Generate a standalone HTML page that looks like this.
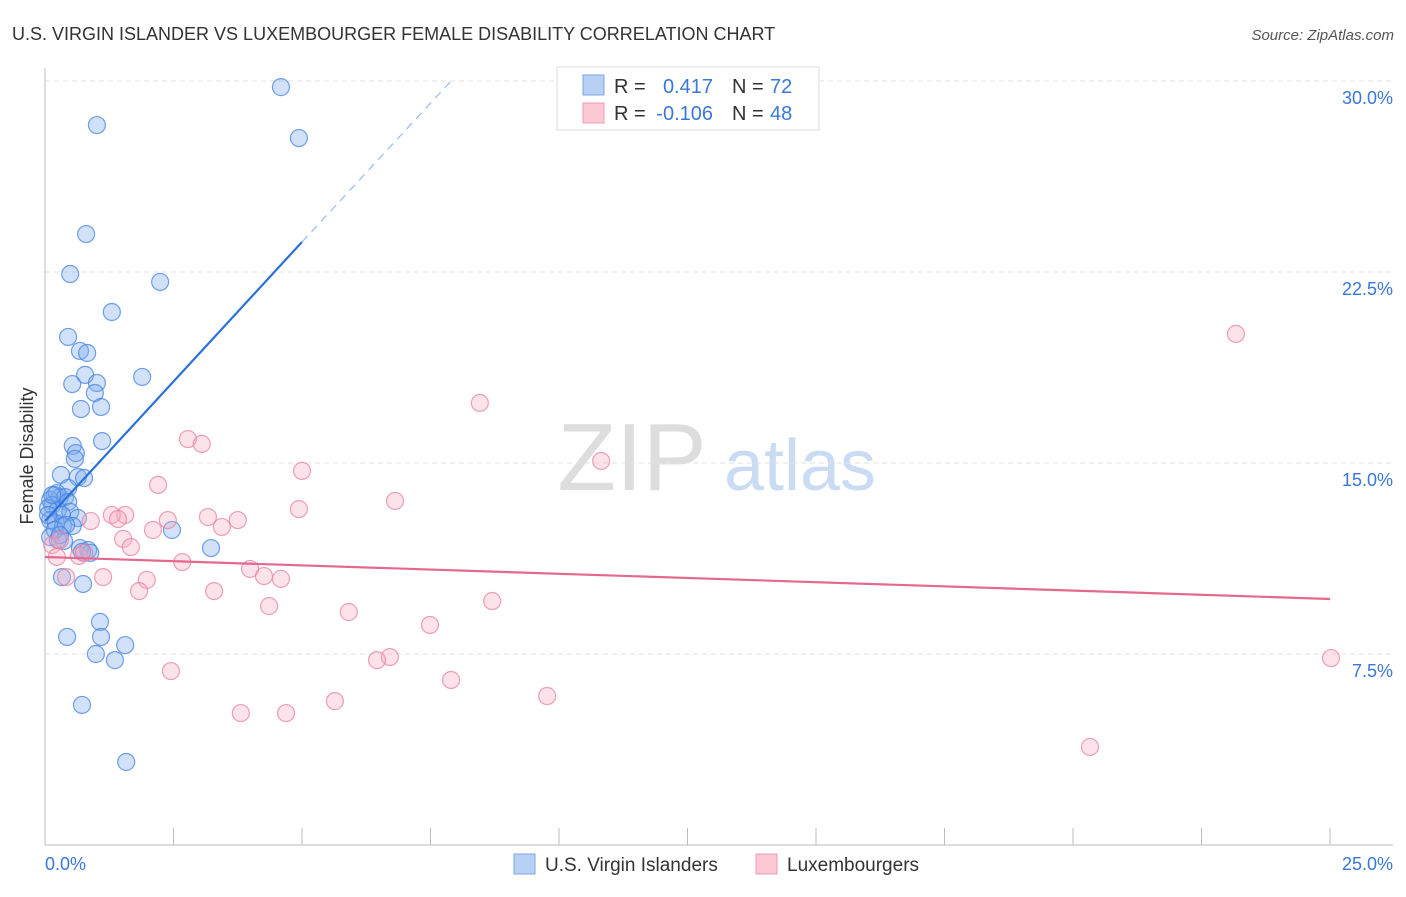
<!DOCTYPE html>
<html><head><meta charset="utf-8"><style>
body{margin:0;background:#fff;font-family:"Liberation Sans",sans-serif;}
svg text{font-family:"Liberation Sans",sans-serif;}
</style></head><body>
<svg id="c" width="1406" height="892" xmlns="http://www.w3.org/2000/svg">
<text x="12" y="40" font-size="18" fill="#333">U.S. VIRGIN ISLANDER VS LUXEMBOURGER FEMALE DISABILITY CORRELATION CHART</text>
<text x="1394" y="40" font-size="15" fill="#555" font-style="italic" text-anchor="end">Source: ZipAtlas.com</text>
<text x="33" y="456" font-size="18" fill="#333" text-anchor="middle" transform="rotate(-90 33 456)">Female Disability</text>
<g><text x="632" y="490" font-size="96" fill="#ddd" font-family="Liberation Serif" text-anchor="middle">ZIP</text><text x="800" y="490" font-size="72" fill="#c9dcf3" text-anchor="middle">atlas</text></g>
<g id="grid"></g><g id="axes"></g><g id="marks"></g>
<g>
<rect x="557" y="67" width="262" height="63" fill="#fff" stroke="#ddd"/>
<rect x="583" y="75" width="21" height="20" fill="#b7d0f3" stroke="#7aa6e6"/>
<rect x="583" y="103" width="21" height="20" fill="#fcc8d6" stroke="#ee9cb4"/>
<text x="614" y="93" font-size="20" fill="#333">R =</text><text x="713" y="93" font-size="20" fill="#3a78d8" text-anchor="end">0.417</text>
<text x="732" y="93" font-size="20" fill="#333">N =</text><text x="770" y="93" font-size="20" fill="#3a78d8">72</text>
<text x="614" y="120" font-size="20" fill="#333">R =</text><text x="713" y="120" font-size="20" fill="#3a78d8" text-anchor="end">-0.106</text>
<text x="732" y="120" font-size="20" fill="#333">N =</text><text x="770" y="120" font-size="20" fill="#3a78d8">48</text>
</g>
<g>
<rect x="514" y="854" width="21" height="20" fill="#b7d0f3" stroke="#7aa6e6"/><text x="545" y="871" font-size="19" fill="#333">U.S. Virgin Islanders</text>
<rect x="756" y="854" width="21" height="20" fill="#fcc8d6" stroke="#ee9cb4"/><text x="787" y="871" font-size="19" fill="#333">Luxembourgers</text>
</g>
</svg>
<script>
const yTicks=[7.5,15,22.5,30];
const yTickLabels=["7.5%","15.0%","22.5%","30.0%"];
const xTicks=[0,2.5,5,7.5,10,12.5,15,17.5,20,22.5,25];
const xEndLabels=["0.0%","25.0%"];
const blueX=[4.59,1.01,4.94,0.80,0.49,2.24,1.30,0.45,0.68,0.82,1.89,0.78,0.53,1.01,0.97,1.09,0.70,1.11,0.54,0.60,0.58,0.31,0.64,0.76,0.45,0.19,0.29,0.10,0.23,0.39,0.45,0.14,0.25,0.06,0.49,0.33,0.64,0.10,0.21,0.35,0.54,0.10,0.25,0.37,0.68,0.84,0.88,0.72,2.47,3.23,0.33,0.74,1.07,0.43,1.09,1.56,0.99,1.36,0.72,1.58,0.06,0.14,0.19,0.41,0.29];
const blueY=[29.76,28.27,27.76,23.99,22.42,22.11,20.93,19.95,19.40,19.32,18.38,18.46,18.10,18.14,17.75,17.20,17.12,15.86,15.67,15.39,15.16,14.53,14.45,14.41,14.02,13.74,13.66,13.55,13.82,13.66,13.47,13.35,13.15,13.23,13.08,12.96,12.84,12.76,12.64,12.53,12.53,12.09,11.98,11.94,11.66,11.58,11.47,11.51,12.37,11.66,10.52,10.25,8.76,8.17,8.17,7.85,7.50,7.26,5.50,3.26,12.96,13.74,12.37,12.57,12.17];
const pinkX=[23.17,8.46,2.78,3.05,10.82,5.00,2.20,6.81,4.94,1.56,1.30,1.42,0.89,3.17,3.75,2.39,3.44,2.10,1.52,1.67,0.14,0.29,0.66,0.76,0.23,2.67,3.99,4.26,4.59,1.98,1.13,0.41,1.83,3.29,4.36,5.91,8.70,7.49,6.71,6.46,2.45,7.90,9.77,5.64,3.81,4.69,20.33,25.02];
const pinkY=[20.07,17.36,15.94,15.75,15.08,14.69,14.14,13.51,13.19,12.96,12.96,12.80,12.72,12.88,12.76,12.76,12.49,12.37,12.02,11.70,11.78,11.98,11.35,11.47,11.31,11.11,10.84,10.56,10.45,10.41,10.52,10.52,9.97,9.97,9.38,9.15,9.58,8.64,7.38,7.26,6.83,6.48,5.85,5.65,5.18,5.18,3.85,7.34];
const blueTrend=[[0,12.72],[5,23.68]];
const blueTrendExt=[[5,23.68],[7.9,30.0]];
const pinkTrend=[[0,11.31],[25,9.66]];

const NS="http://www.w3.org/2000/svg";
const X0=45,X1=1330,Y0=845,Y30=81;
const sx=v=>X0+v/25*(X1-X0);
const sy=v=>Y0-v/30*(Y0-Y30);
function mk(p,t,a){const e=document.createElementNS(NS,t);for(const k in a)e.setAttribute(k,a[k]);p.appendChild(e);return e;}
const grid=document.getElementById('grid'),axes=document.getElementById('axes'),marks=document.getElementById('marks');
yTicks.forEach((t,i)=>{
  const l=mk(grid,'line',{x1:X0,x2:1393,y1:sy(t),y2:sy(t),stroke:'#e2e2e2','stroke-dasharray':'5,4'});
  
  
  const tx=mk(grid,'text',{x:1393,y:sy(t)+23,'font-size':18,fill:'#3a78d8','text-anchor':'end'});
  tx.textContent=yTickLabels[i];
  
  
});
let a=mk(axes,'line',{x1:X0,x2:X0,y1:68,y2:Y0,stroke:'#bbb'});


a=mk(axes,'line',{x1:X0,x2:1393,y1:Y0,y2:Y0,stroke:'#bbb'});


xTicks.forEach(t=>{
  const l=mk(axes,'line',{x1:sx(t),x2:sx(t),y1:828,y2:Y0,stroke:'#bbb'});
  
  
});
let t1=mk(axes,'text',{x:45,y:870,'font-size':18,fill:'#3a78d8'});t1.textContent=xEndLabels[0];


let t2=mk(axes,'text',{x:1393,y:870,'font-size':18,fill:'#3a78d8','text-anchor':'end'});t2.textContent=xEndLabels[1];



blueX.forEach((v,i)=>{
  const c=mk(marks,'circle',{cx:sx(v),cy:sy(blueY[i]),r:8.5,fill:'rgba(120,168,238,0.35)',stroke:'rgba(70,130,225,0.75)','stroke-width':1.2});
  
  
});
pinkX.forEach((v,i)=>{
  const c=mk(marks,'circle',{cx:sx(v),cy:sy(pinkY[i]),r:8.5,fill:'rgba(246,172,192,0.35)',stroke:'rgba(232,130,160,0.75)','stroke-width':1.2});
  
  
});
let tl=mk(marks,'line',{x1:sx(blueTrend[0][0]),y1:sy(blueTrend[0][1]),x2:sx(blueTrend[1][0]),y2:sy(blueTrend[1][1]),stroke:'#2a72d8','stroke-width':2.2});


tl=mk(marks,'line',{x1:sx(blueTrendExt[0][0]),y1:sy(blueTrendExt[0][1]),x2:sx(blueTrendExt[1][0]),y2:sy(blueTrendExt[1][1]),stroke:'#9bbbe8','stroke-width':1.2,'stroke-dasharray':'8,6'});


tl=mk(marks,'line',{x1:sx(pinkTrend[0][0]),y1:sy(pinkTrend[0][1]),x2:sx(pinkTrend[1][0]),y2:sy(pinkTrend[1][1]),stroke:'#e4698f','stroke-width':2.2});


</script>
</body></html>
